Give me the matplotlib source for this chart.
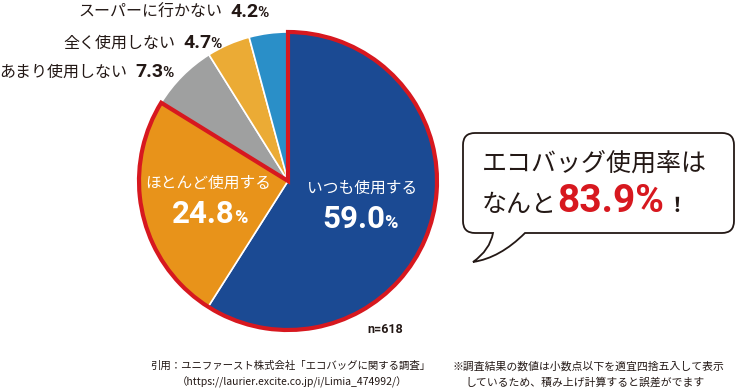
import matplotlib.pyplot as plt
from matplotlib.patches import Wedge, PathPatch
from matplotlib.path import Path

plt.rcParams['font.family'] = ['Noto Sans CJK JP', 'DejaVu Sans']

# data
labels = ['いつも使用する', 'ほとんど使用する', 'あまり使用しない', '全く使用しない', 'スーパーに行かない']
values = [59.0, 24.8, 7.3, 4.7, 4.2]
colors = ['#1b4a93', '#e8931a', '#9fa0a0', '#ebab35', '#2a8fc8']
headline = 'エコバッグ使用率は'
total_pct = 83.9
n_resp = 618
source_lines = ['引用：ユニファースト株式会社「エコバッグに関する調査」',
                '（https://laurier.excite.co.jp/i/Limia_474992/）']
note_lines = ['※調査結果の数値は小数点以下を適宜四捨五入して表示',
              'しているため、積み上げ計算すると誤差がでます']

W, H = 736, 388
INK = '#231815'
RED = '#d7181f'
NUM = ['Roboto', 'DejaVu Sans']


def Y(y):
    # pixel row (from top) -> data y
    return H - y


fig = plt.figure(figsize=(7.36, 3.88), dpi=100)
ax = fig.add_axes([0, 0, 1, 1])

cx, cy, r = 288, Y(181), 149
ax.pie(values, colors=colors, startangle=90, counterclock=False,
       radius=r, center=(cx, cy),
       wedgeprops=dict(edgecolor='white', linewidth=1.2))
ax.set_xlim(0, W)
ax.set_ylim(0, H)
ax.set_aspect('equal')
ax.axis('off')

# red outline around "always" + "almost always"
span = (values[0] + values[1]) / sum(values) * 360
ax.add_patch(Wedge((cx, cy), r, 90 - span, 90, fill=False,
                   edgecolor=RED, linewidth=3, joinstyle='miter'))


def after(prev, s, y, gap=0, **kw):
    # put text s right after prev, on baseline y
    return ax.annotate(s, xy=(1, y), xycoords=(prev, 'data'),
                       xytext=(gap, 0), textcoords='offset points',
                       ha='left', va='baseline', **kw)


# outer labels for the small slices
rows = [(4, 230, 17), (3, 183, 48), (2, 135, 77)]
for i, x0, yb in rows:
    t = ax.text(x0, Y(yb), f'{values[i]:.1f}', family=NUM, weight='bold',
                size=14, color=INK, ha='left', va='baseline')
    after(t, '%', Y(yb), gap=-0.5, family=NUM, weight='bold', size=11, color=INK)
    ax.text(x0 - 8, Y(yb), labels[i], size=11.5, color=INK,
            ha='right', va='baseline')

# inner labels
inner = [(0, 362, 188, 322, 228), (1, 208, 183, 172, 223)]
for i, lx, ly, nx, nyb in inner:
    ax.text(lx, Y(ly), labels[i], size=11.3, color='white',
            ha='center', va='center')
    t = ax.text(nx, Y(nyb), f'{values[i]:.1f}', family=NUM, weight='bold',
                size=22.5, color='white', ha='left', va='baseline')
    after(t, '%', Y(nyb), gap=-0.5, family=NUM, weight='bold', size=13, color='white')

# speech bubble
L, R, T, B, rr = 463, 734, 133, 233, 12
pts = [
    (Path.MOVETO, (L + rr, T)),
    (Path.LINETO, (R - rr, T)),
    (Path.CURVE3, (R, T)), (Path.CURVE3, (R, T + rr)),
    (Path.LINETO, (R, B - rr)),
    (Path.CURVE3, (R, B)), (Path.CURVE3, (R - rr, B)),
    (Path.LINETO, (525, B)),
    (Path.CURVE3, (500, 258)), (Path.CURVE3, (473, 262)),
    (Path.CURVE3, (490, 250)), (Path.CURVE3, (493, B)),
    (Path.LINETO, (L + rr, B)),
    (Path.CURVE3, (L, B)), (Path.CURVE3, (L, B - rr)),
    (Path.LINETO, (L, T + rr)),
    (Path.CURVE3, (L, T)), (Path.CURVE3, (L + rr, T)),
    (Path.CLOSEPOLY, (L + rr, T)),
]
codes = [c for c, _ in pts]
verts = [(x, Y(y)) for _, (x, y) in pts]
ax.add_patch(PathPatch(Path(verts, codes), facecolor='white',
                       edgecolor=INK, linewidth=1.3))

ax.text(482, Y(164), headline, size=18, color=INK, ha='left', va='center')
t = ax.text(482, Y(212), 'なんと', size=18, color=INK, ha='left', va='baseline')
t = after(t, f'{total_pct:.1f}%', Y(212), family=NUM, weight='bold', size=28, color=RED)
after(t, '！', Y(212), gap=2, size=15, weight='bold', color=INK)

# sample size
ax.text(367, Y(333), f'n={n_resp}', family=NUM, weight='bold', size=9,
        color=INK, ha='left', va='baseline')

# footnotes
ax.text(150, Y(366), source_lines[0], size=7.5, color=INK, ha='left', va='center')
ax.text(177, Y(382), source_lines[1], size=7.5, color=INK, ha='left', va='center')
ax.text(452, Y(367), note_lines[0], size=7.8, color=INK, ha='left', va='center')
ax.text(465, Y(382), note_lines[1], size=7.8, color=INK, ha='left', va='center')

fig.savefig('out.png', dpi=100)
